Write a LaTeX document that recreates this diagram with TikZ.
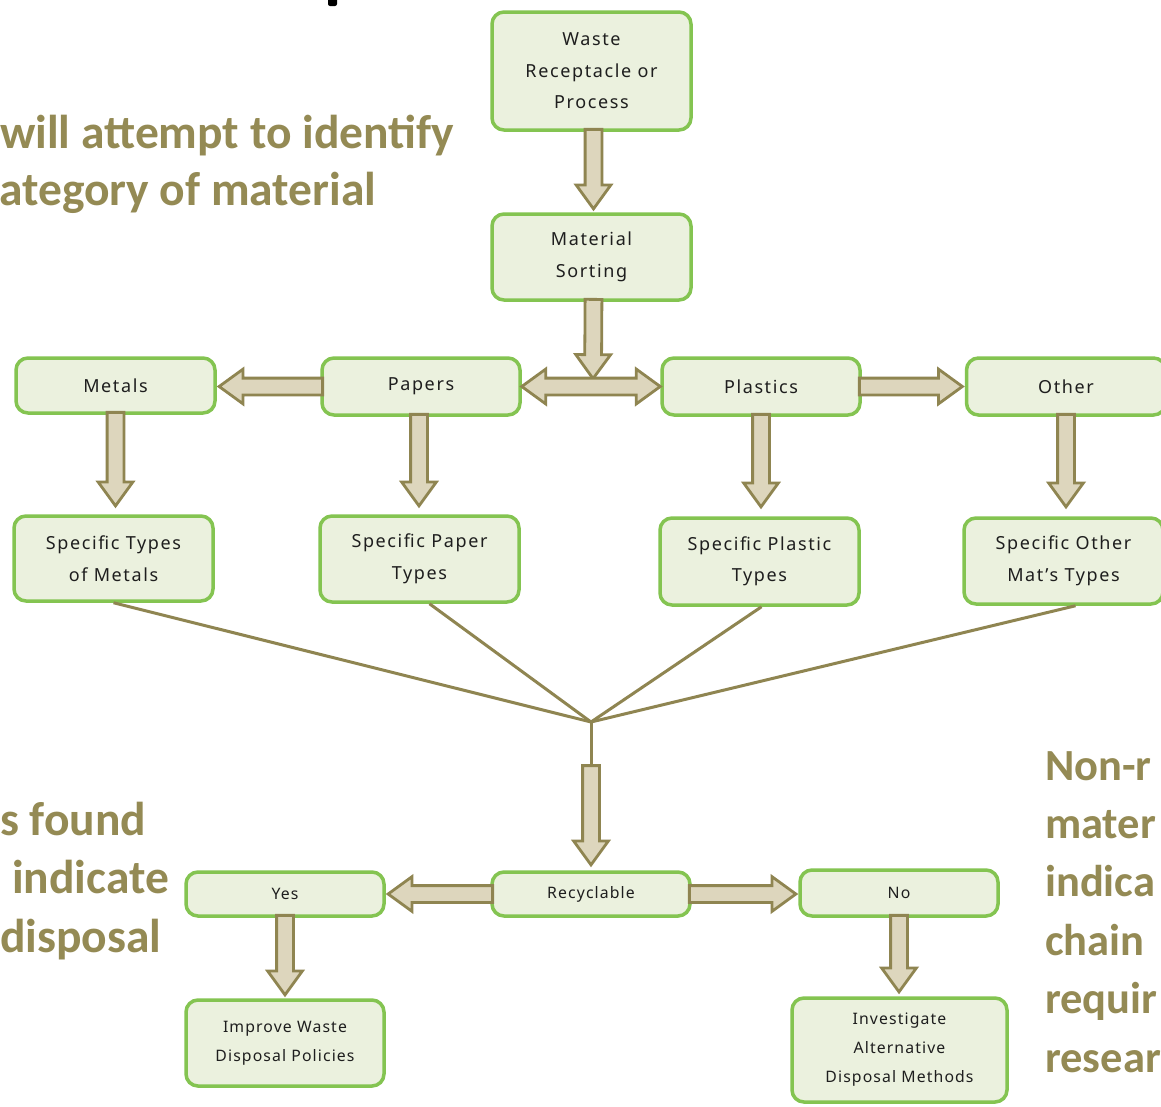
\documentclass[tikz,border=0pt]{standalone}
\usepackage{fontspec}
\setmainfont{Noto Sans}
\newfontfamily\boxfontA[LetterSpace=9]{Noto Sans}
\newfontfamily\boxfontB[LetterSpace=7]{Noto Sans}
\newfontfamily\olivefont{Carlito}
\usetikzlibrary{shapes.arrows,calc}
\definecolor{boxfill}{HTML}{EBF1DE}
\definecolor{boxline}{HTML}{84C451}
\definecolor{arrline}{HTML}{8F8551}
\definecolor{arrfill}{HTML}{DDD6BD}
\definecolor{olivetext}{HTML}{948A54}
\definecolor{boxtext}{HTML}{1E1E1E}
\tikzset{
  boxbase/.style={draw=boxline, fill=boxfill, line width=3.5pt, rounded corners=12pt,
    align=center, text=boxtext, inner sep=2pt},
  bigbox/.style={boxbase, font=\boxfontA\fontsize{18pt}{31.5pt}\selectfont},
  smallbox/.style={boxbase, font=\boxfontB\fontsize{15.8pt}{29pt}\selectfont},
  barrow/.style={single arrow, draw=arrline, fill=arrfill, line width=2.8pt,
    inner xsep=0pt, inner ysep=7pt, minimum width=0pt,
    single arrow head extend=9pt, single arrow tip angle=72},
  dbarrow/.style={double arrow, draw=arrline, fill=arrfill, line width=2.8pt,
    inner xsep=0pt, inner ysep=7pt, minimum width=0pt,
    double arrow head extend=9pt, double arrow tip angle=72},
  conn/.style={draw=arrline, line width=3pt},
  olive/.style={font=\olivefont\bfseries\fontsize{47.5pt}{57.5pt}\selectfont,
    text=olivetext, anchor=base west, inner sep=0pt},
  oliveR/.style={olive, font=\olivefont\bfseries\fontsize{44.5pt}{57.5pt}\selectfont}
}
\newcommand\blockarr[2]{%
  \path let \p1=(#1), \p2=(#2), \n1={veclen(\x2-\x1,\y2-\y1)},
    \n2={atan2(\y2-\y1,\x2-\x1)} in
    node[barrow, minimum height=\n1, rotate=\n2, anchor=tip] at (#2) {};}
\newcommand\dblockarr[2]{%
  \path let \p1=(#1), \p2=(#2), \n1={veclen(\x2-\x1,\y2-\y1)},
    \n2={atan2(\y2-\y1,\x2-\x1)} in
    node[dbarrow, minimum height=\n1, rotate=\n2] at ($(#1)!0.5!(#2)$) {};}
\begin{document}
\begin{tikzpicture}[x=1pt, y=-1pt]
\useasboundingbox (0,0) rectangle (1161,1106);
\clip (0,0) rectangle (1161,1106);
\fill[white] (0,0) rectangle (1161,1106);

% fragment of a title glyph
\fill[black, rounded corners=2pt] (328,-4) rectangle (337,6);

% olive side texts
\node[olive] (t1) at (0,148) {will attempt to identify};
\node[olive] (t2) at (-1,205) {ategory of material};
\node[olive] (t3) at (0,835) {s found};
\node[olive] (t4) at (12,893) {indicate};
\node[olive] (t5) at (0,952) {disposal};
\node[oliveR] (r1) at (1045,780) {Non-r};
\node[oliveR] (r2) at (1045,838.4) {mater};
\node[oliveR] (r3) at (1045,896.8) {indica};
\node[oliveR] (r4) at (1045,955.2) {chain};
\node[oliveR] (r5) at (1045,1013.6) {requir};
\node[oliveR] (r6) at (1045,1072) {resear};

% boxes
\node[bigbox, minimum width=199pt, minimum height=118pt] (waste) at (591.5,71) {Waste\\Receptacle or\\Process};
\node[bigbox, minimum width=199pt, minimum height=86pt] (sort) at (591.5,257) {Material\\Sorting};
\node[bigbox, minimum width=199pt, minimum height=55pt] (metals) at (115.5,385.5) {Metals};
\node[bigbox, minimum width=198pt, minimum height=57pt] (papers) at (421,386.5) {Papers};
\node[bigbox, minimum width=198pt, minimum height=57pt] (plastics) at (761,386.5) {Plastics};
\node[bigbox, minimum width=199pt, minimum height=57pt] (other) at (1066,386.5) {Other};
\node[bigbox, minimum width=199pt, minimum height=85pt] (spmetals) at (113.5,558.5) {Specific Types\\of Metals};
\node[bigbox, minimum width=199pt, minimum height=86pt] (sppaper) at (419.5,559) {Specific Paper\\Types};
\node[bigbox, minimum width=199pt, minimum height=87pt] (spplastic) at (759.5,561.5) {Specific Plastic\\Types};
\node[bigbox, minimum width=199pt, minimum height=86pt] (spother) at (1063.5,561) {Specific Other\\Mat’s Types};
\node[smallbox, minimum width=198pt, minimum height=44pt] (recyc) at (591,894) {Recyclable};
\node[smallbox, minimum width=198pt, minimum height=44pt] (yes) at (285,894) {Yes};
\node[smallbox, minimum width=198pt, minimum height=46pt] (no) at (899,893) {No};
\node[smallbox, minimum width=198pt, minimum height=86pt] (improve) at (285,1043) {Improve Waste\\Disposal Policies};
\node[smallbox, minimum width=215pt, minimum height=104pt] (invest) at (899.5,1050) {Investigate\\Alternative\\Disposal Methods};

% named coordinates
\coordinate (split) at (593,381);
\coordinate (hub) at (591,722);
\coordinate (hubarr) at (591,768);

% connectors
\draw[conn] (spmetals.south) -- (hub);
\draw[conn] ([xshift=10pt]sppaper.south) -- (hub);
\draw[conn] ([xshift=2pt]spplastic.south) -- (hub);
\draw[conn] ([xshift=12pt]spother.south) -- (hub);
\draw[conn] (hub) -- (hubarr);

% block arrows
\blockarr{[xshift=2pt]waste.south}{[xshift=2pt,yshift=1pt]sort.north}
\blockarr{[xshift=2pt]sort.south}{split}
\dblockarr{papers.east}{plastics.west}
\blockarr{papers.west}{[yshift=-1pt]metals.east}
\blockarr{plastics.east}{other.west}
\blockarr{metals.south}{[xshift=2pt,yshift=6pt]spmetals.north}
\blockarr{[xshift=-2pt]papers.south}{[xshift=-0.5pt,yshift=6pt]sppaper.north}
\blockarr{plastics.south}{[xshift=1.5pt,yshift=7pt]spplastic.north}
\blockarr{other.south}{[xshift=2.5pt,yshift=7pt]spother.north}
\blockarr{hubarr}{[yshift=3pt]recyc.north}
\blockarr{recyc.west}{yes.east}
\blockarr{recyc.east}{[yshift=-1pt]no.west}
\blockarr{yes.south}{[yshift=1pt]improve.north}
\blockarr{no.south}{[xshift=-0.5pt,yshift=2pt]invest.north}
\end{tikzpicture}
\end{document}
